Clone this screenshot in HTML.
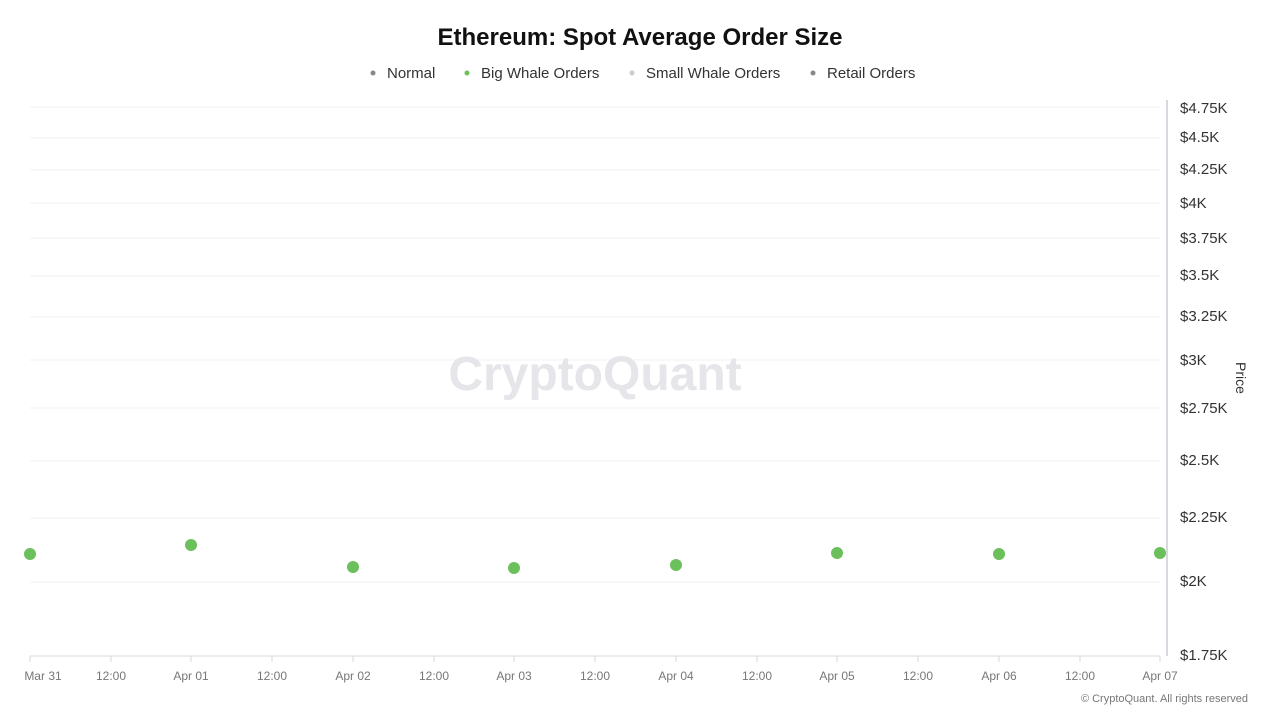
<!DOCTYPE html>
<html><head><meta charset="utf-8"><style>
body{margin:0;background:#fff;width:1280px;height:720px;overflow:hidden;font-family:"Liberation Sans",sans-serif}
</style></head><body>
<svg width="1280" height="720" viewBox="0 0 1280 720" xmlns="http://www.w3.org/2000/svg" font-family="Liberation Sans, sans-serif">
<text x="640" y="45" text-anchor="middle" font-size="24" font-weight="bold" fill="#111">Ethereum: Spot Average Order Size</text>
<g font-size="15" fill="#333">
<circle cx="373" cy="73" r="2.5" fill="#888"/><text x="387" y="78">Normal</text>
<circle cx="467" cy="73" r="2.5" fill="#6cc05c"/><text x="481" y="78">Big Whale Orders</text>
<circle cx="632" cy="73" r="2.5" fill="#ccc"/><text x="646" y="78">Small Whale Orders</text>
<circle cx="813" cy="73" r="2.5" fill="#888"/><text x="827" y="78">Retail Orders</text>
</g>
<g stroke="#f0f0f0" stroke-width="1">
<line x1="30" x2="1160" y1="107" y2="107"/><line x1="30" x2="1160" y1="138" y2="138"/><line x1="30" x2="1160" y1="170" y2="170"/><line x1="30" x2="1160" y1="203" y2="203"/><line x1="30" x2="1160" y1="238" y2="238"/><line x1="30" x2="1160" y1="276" y2="276"/><line x1="30" x2="1160" y1="317" y2="317"/><line x1="30" x2="1160" y1="360" y2="360"/><line x1="30" x2="1160" y1="408" y2="408"/><line x1="30" x2="1160" y1="461" y2="461"/><line x1="30" x2="1160" y1="518" y2="518"/><line x1="30" x2="1160" y1="582" y2="582"/>
</g>
<text x="595" y="390" text-anchor="middle" font-size="48" fill="#e6e6ea" font-weight="bold">CryptoQuant</text>
<line x1="1167" y1="100" x2="1167" y2="656" stroke="#d8d8e0" stroke-width="2"/>
<line x1="30" y1="656" x2="1160" y2="656" stroke="#d8d8e0" stroke-width="1"/>
<g stroke="#d8d8e0"><line x1="30" x2="30" y1="656" y2="662"/><line x1="111" x2="111" y1="656" y2="662"/><line x1="191" x2="191" y1="656" y2="662"/><line x1="272" x2="272" y1="656" y2="662"/><line x1="353" x2="353" y1="656" y2="662"/><line x1="434" x2="434" y1="656" y2="662"/><line x1="514" x2="514" y1="656" y2="662"/><line x1="595" x2="595" y1="656" y2="662"/><line x1="676" x2="676" y1="656" y2="662"/><line x1="757" x2="757" y1="656" y2="662"/><line x1="837" x2="837" y1="656" y2="662"/><line x1="918" x2="918" y1="656" y2="662"/><line x1="999" x2="999" y1="656" y2="662"/><line x1="1080" x2="1080" y1="656" y2="662"/><line x1="1160" x2="1160" y1="656" y2="662"/></g>
<g font-size="12" fill="#777" text-anchor="middle">
<text x="43" y="680">Mar 31</text><text x="111" y="680">12:00</text><text x="191" y="680">Apr 01</text><text x="272" y="680">12:00</text><text x="353" y="680">Apr 02</text><text x="434" y="680">12:00</text><text x="514" y="680">Apr 03</text><text x="595" y="680">12:00</text><text x="676" y="680">Apr 04</text><text x="757" y="680">12:00</text><text x="837" y="680">Apr 05</text><text x="918" y="680">12:00</text><text x="999" y="680">Apr 06</text><text x="1080" y="680">12:00</text><text x="1160" y="680">Apr 07</text>
</g>
<g font-size="15" fill="#333">
<text x="1180" y="113">$4.75K</text><text x="1180" y="142">$4.5K</text><text x="1180" y="174">$4.25K</text><text x="1180" y="208">$4K</text><text x="1180" y="243">$3.75K</text><text x="1180" y="280">$3.5K</text><text x="1180" y="321">$3.25K</text><text x="1180" y="365">$3K</text><text x="1180" y="413">$2.75K</text><text x="1180" y="465">$2.5K</text><text x="1180" y="522">$2.25K</text><text x="1180" y="586">$2K</text><text x="1180" y="660">$1.75K</text>
</g>
<text transform="translate(1236,378) rotate(90)" text-anchor="middle" font-size="14" fill="#333">Price</text>
<g fill="#6cc05c">
<circle cx="30" cy="554" r="6"/><circle cx="191" cy="545" r="6"/><circle cx="353" cy="567" r="6"/><circle cx="514" cy="568" r="6"/><circle cx="676" cy="565" r="6"/><circle cx="837" cy="553" r="6"/><circle cx="999" cy="554" r="6"/><circle cx="1160" cy="553" r="6"/>
</g>
<text x="1248" y="702" text-anchor="end" font-size="11" fill="#777">© CryptoQuant. All rights reserved</text>
</svg>
</body></html>
